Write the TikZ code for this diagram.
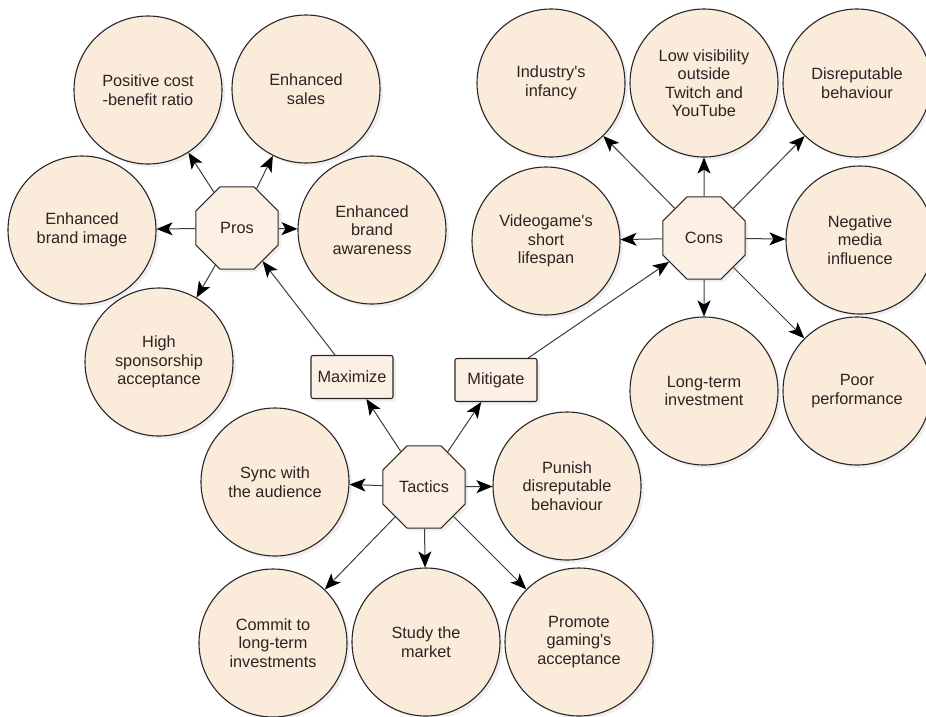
\documentclass[tikz,border=0pt]{standalone}
\usepackage{fontspec}
\setmainfont{Liberation Sans}
\usetikzlibrary{shapes.geometric,arrows.meta,shadows}
\definecolor{peach}{RGB}{251,235,219}
\definecolor{peachlt}{RGB}{252,239,228}
\definecolor{edge}{RGB}{40,40,40}
\definecolor{txt}{RGB}{45,35,35}
\newcommand{\ap}{\textquotesingle}
\begin{document}
\begin{tikzpicture}[x=1pt,y=-1pt,
  every node/.style={font=\fontsize{16.3}{18.5}\selectfont, text=txt, align=center},
  bubble/.style={circle, draw=edge, line width=1.1pt, fill=peach, minimum size=148pt, inner sep=0pt,
     drop shadow={opacity=0.12, shadow xshift=3pt, shadow yshift=-3pt}},
  hub/.style={regular polygon, regular polygon sides=8, draw=edge, line width=1.1pt, fill=peachlt,
     minimum size=89pt, inner sep=0pt, drop shadow={opacity=0.12, shadow xshift=3pt, shadow yshift=-3pt}},
  tag/.style={rectangle, rounded corners=2pt, draw=edge, line width=1.1pt, fill=peachlt,
     minimum width=82pt, minimum height=43pt, inner sep=0pt, drop shadow={opacity=0.12, shadow xshift=3pt, shadow yshift=-3pt}},
  arr/.style={draw=edge!90, line width=1pt, -{Stealth[length=16pt,width=13pt,inset=4pt,black]}}
]
\useasboundingbox (0,0) rectangle (926,716);
\fill[white] (0,0) rectangle (926,716);

% Pros cluster
\node[bubble] (pc) at (148,90) {Positive cost\\-benefit ratio};
\node[bubble] (es) at (306,89) {Enhanced\\sales};
\node[bubble] (ebi) at (82,230) {Enhanced\\brand image};
\node[bubble] (eba) at (372,230) {Enhanced\\brand\\awareness};
\node[bubble] (hsa) at (159,362) {High\\sponsorship\\acceptance};
\node[hub] (pros) at (237,228) {Pros};

% Cons cluster
\node[bubble] (ii) at (551,83) {Industry\ap s\\infancy};
\node[bubble] (lv) at (704,83) {Low visibility\\outside\\Twitch and\\YouTube};
\node[bubble] (db) at (857,83) {Disreputable\\behaviour};
\node[bubble] (vs) at (546,241) {Videogame\ap s\\short\\lifespan};
\node[bubble] (nm) at (860,240) {Negative\\media\\influence};
\node[bubble] (lt) at (704,391) {Long-term\\investment};
\node[bubble] (pp) at (857,391) {Poor\\performance};
\node[hub] (cons) at (704,238) {Cons};

% Tactics cluster
\node[tag] (max) at (352,377) {Maximize};
\node[tag] (mit) at (496,380) {Mitigate};
\node[bubble] (sy) at (275,482) {Sync with\\the audience};
\node[bubble] (pu) at (567,486) {Punish\\disreputable\\behaviour};
\node[bubble] (co) at (273,643) {Commit to\\long-term\\investments};
\node[bubble] (sm) at (426,642) {Study the\\market};
\node[bubble] (pg) at (579,642) {Promote\\gaming\ap s\\acceptance};
\node[hub] (tac) at (424,487) {Tactics};

% connectors
\foreach \t in {pc,es,ebi,eba,hsa} \draw[arr] (pros) -- (\t);
\foreach \t in {ii,lv,db,vs,nm,lt,pp} \draw[arr] (cons) -- (\t);
\foreach \t in {max,mit,sy,pu,co,sm,pg} \draw[arr] (tac) -- (\t);
\draw[arr] (max) -- (pros);
\draw[arr] (mit) -- (cons);
\end{tikzpicture}
\end{document}
